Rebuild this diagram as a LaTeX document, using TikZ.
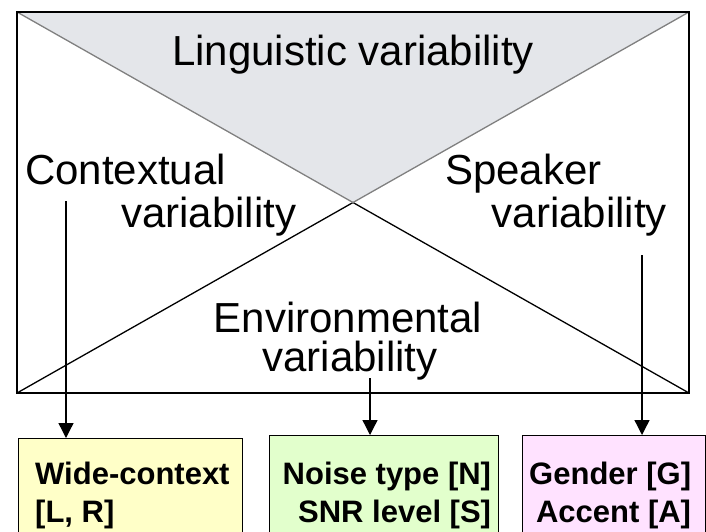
\documentclass[tikz,border=0pt]{standalone}
\usepackage{fontspec}
\setmainfont{Liberation Sans}
\usetikzlibrary{arrows.meta}

\definecolor{topgray}{HTML}{E4E6EA}
\definecolor{linegray}{HTML}{808080}
\definecolor{ctxfill}{HTML}{FFFFC8}
\definecolor{envfill}{HTML}{E2FFCC}
\definecolor{spkfill}{HTML}{FFE2FF}

\begin{document}
\begin{tikzpicture}[x=1pt, y=-1pt,
    bigtext/.style  = {inner sep=0pt, font=\fontsize{42}{48}\selectfont},
    boxtext/.style  = {inner sep=0pt, font=\fontsize{31}{38}\selectfont\bfseries},
    factorbox/.style = {draw, line width=1.3pt, anchor=north west, inner sep=0pt,
                        minimum height=130pt},
    arr/.style      = {line width=1.3pt, -{Triangle[length=15pt, width=15pt]}}]
  \useasboundingbox (0,0) rectangle (706,531);
  \clip (0,0) rectangle (706,531);
  \coordinate (tl) at (17,12);
  \coordinate (tr) at (689,12);
  \coordinate (bl) at (17,393);
  \coordinate (br) at (689,393);
  \coordinate (mid) at (353,202.5);
  % linguistic triangle
  \fill[topgray] (tl) -- (tr) -- (mid) -- cycle;
  \draw[line width=1.3pt] (bl) -- (mid) -- (br);
  \draw[line width=1.3pt, linegray] (tl) -- (mid) -- (tr);
  \draw[line width=1.6pt] (tl) rectangle (br);
  % labels
  \node[bigtext, anchor=base] (ling) at (353,65) {Linguistic variability};
  \node[bigtext, anchor=base west] (ctx1) at (25,184) {Contextual};
  \node[bigtext, anchor=base west] (ctx2) at (121,227) {variability};
  \node[bigtext, anchor=base west] (spk1) at (445,184) {Speaker};
  \node[bigtext, anchor=base east] (spk2) at (667,227) {variability};
  \node[bigtext, anchor=base] (env1) at (348,332) {Environmental};
  \node[bigtext, anchor=base] (env2) at (350,371) {variability};
  % factor boxes
  \node[factorbox, fill=ctxfill, minimum width=224pt] (ctxbox) at (18,438) {};
  \node[factorbox, fill=envfill, minimum width=229pt] (envbox) at (269,435) {};
  \node[factorbox, fill=spkfill, minimum width=183pt] (spkbox) at (522,435) {};
  \node[boxtext, anchor=north west, align=left] (ctxtxt)
    at ([xshift=17pt, yshift=-24pt]ctxbox.north west) {Wide-context\\{}[L, R]};
  \node[boxtext, anchor=north east, align=right] (envtxt)
    at ([xshift=-8pt, yshift=-27pt]envbox.north east) {Noise type [N]\\SNR level [S]};
  \node[boxtext, anchor=north east, align=right] (spktxt)
    at ([xshift=-15pt, yshift=-27pt]spkbox.north east) {Gender [G]\\Accent [A]};
  % arrows
  \coordinate (ctxtop) at (66,201);
  \coordinate (envtop) at (370,378);
  \coordinate (spktop) at (642,255);
  \draw[arr] (ctxtop) -- (ctxtop |- ctxbox.north);
  \draw[arr] (envtop) -- (envtop |- envbox.north);
  \draw[arr] (spktop) -- (spktop |- spkbox.north);
\end{tikzpicture}
\end{document}
